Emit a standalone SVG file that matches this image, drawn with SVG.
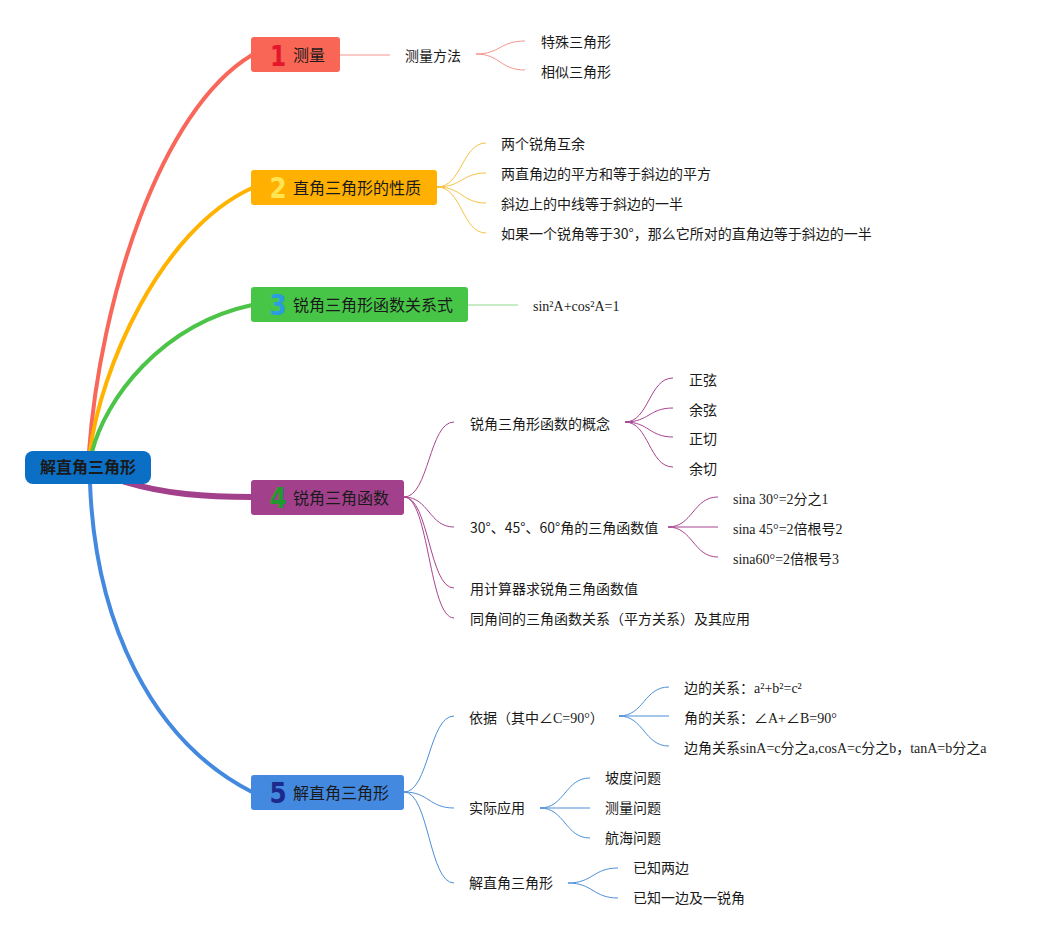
<svg xmlns="http://www.w3.org/2000/svg" width="1047" height="938" viewBox="0 0 1047 938">
<style>
.t{font-family:"Noto Sans CJK SC","Liberation Sans",sans-serif;font-size:14px;fill:#1a1a1a}
.s{font-family:"Liberation Serif","Noto Sans CJK SC",serif;font-size:14px;fill:#1a1a1a}
.b{font-family:"Noto Sans CJK SC","Liberation Sans",sans-serif;font-size:16px;fill:#1a1a1a}
.num{font-family:"DejaVu Sans",sans-serif;font-weight:bold;font-size:29px;text-anchor:middle}
.main{fill:none;stroke-width:4;stroke-linecap:round}
.sub{fill:none;stroke-width:1}
.r{stroke:#F4958C}.y{stroke:#F6C342}.g{stroke:#8ED98A}.p{stroke:#A8448F}.bl{stroke:#4D8FD8}
</style>
<rect width="1047" height="938" fill="#ffffff"/>
<g id="connectors">
<path class="main" stroke="#F8675A" d="M89,452 C100,300 160,110 252,55"/>
<path class="main" stroke="#FFB300" d="M90,452 C100,370 160,230 252,188"/>
<path class="main" stroke="#4CC447" d="M92,452 C105,400 160,325 252,305"/>
<path class="main" stroke="#4389E0" d="M90,483 C95,620 150,740 252,792"/>
<path fill="none" stroke="#A2408C" stroke-width="6" stroke-linecap="round" d="M125,482 C165,494 205,497 252,497"/>
<path class="sub r" d="M340,55 L390,55"/>
<path class="sub r" d="M476,54 C500,54 500,41 525,41"/>
<path class="sub r" d="M476,54 C500,54 500,70 525,70"/>
<path class="sub y" d="M437,187 C462,187 462,143 486,143"/>
<path class="sub y" d="M437,187 C462,187 462,173 486,173"/>
<path class="sub y" d="M437,187 C462,187 462,203 486,203"/>
<path class="sub y" d="M437,187 C462,187 462,233 486,233"/>
<path class="sub g" d="M468,305 L518,305"/>
<path class="sub p" d="M404,497 C429,497 429,422 454,422"/>
<path class="sub p" d="M404,497 C429,497 429,527 454,527"/>
<path class="sub p" d="M404,497 C429,497 429,588 454,588"/>
<path class="sub p" d="M404,497 C429,497 429,618 454,618"/>
<path class="sub p" d="M625,422 C649,422 649,378 673,378"/>
<path class="sub p" d="M625,422 C649,422 649,408 673,408"/>
<path class="sub p" d="M625,422 C649,422 649,437 673,437"/>
<path class="sub p" d="M625,422 C649,422 649,467 673,467"/>
<path class="sub p" d="M668,527 C693,527 693,497 718,497"/>
<path class="sub p" d="M668,527 L718,527"/>
<path class="sub p" d="M668,527 C693,527 693,557 718,557"/>
<path class="sub bl" d="M404,792 C429,792 429,716 454,716"/>
<path class="sub bl" d="M404,792 C429,792 429,808 454,808"/>
<path class="sub bl" d="M404,792 C429,792 429,883 454,883"/>
<path class="sub bl" d="M619,716 C644,716 644,687 669,687"/>
<path class="sub bl" d="M619,716 L669,716"/>
<path class="sub bl" d="M619,716 C644,716 644,746 669,746"/>
<path class="sub bl" d="M540,808 C565,808 565,778 590,778"/>
<path class="sub bl" d="M540,808 L590,808"/>
<path class="sub bl" d="M540,808 C565,808 565,838 590,838"/>
<path class="sub bl" d="M568,883 C593,883 593,868 618,868"/>
<path class="sub bl" d="M568,883 C593,883 593,898 618,898"/>
</g>
<g id="root">
<rect x="25" y="451" width="126" height="33" rx="8" fill="#0B6FC6"/>
<text x="88" y="473" class="b" font-weight="bold" text-anchor="middle">解直角三角形</text>
</g>
<g id="b1">
<rect x="251" y="37" width="89" height="35" rx="3" fill="#FA6656"/>
<text class="num" fill="#E3162E" transform="translate(278,65.5) scale(0.8,1)">1</text>
<text x="293" y="61" class="b">测量</text>
</g>
<g id="b1c"><text x="405" y="61" class="t">测量方法</text></g>
<g id="b1c1"><text x="541" y="47" class="t">特殊三角形</text></g>
<g id="b1c2"><text x="541" y="77" class="t">相似三角形</text></g>
<g id="b2">
<rect x="251" y="170" width="186" height="35" rx="3" fill="#FFB000"/>
<text class="num" fill="#FFE454" transform="translate(278,198) scale(0.85,1)">2</text>
<text x="293" y="193.5" class="b">直角三角形的性质</text>
</g>
<g id="b2c1"><text x="501" y="149" class="t">两个锐角互余</text></g>
<g id="b2c2"><text x="501" y="179" class="t">两直角边的平方和等于斜边的平方</text></g>
<g id="b2c3"><text x="501" y="209" class="t">斜边上的中线等于斜边的一半</text></g>
<g id="b2c4"><text x="501" y="239" class="t">如果一个锐角等于30°，那么它所对的直角边等于斜边的一半</text></g>
<g id="b3">
<rect x="251" y="287" width="217" height="35" rx="3" fill="#47C547"/>
<text class="num" fill="#2A9CE0" transform="translate(278,315) scale(0.85,1)">3</text>
<text x="293" y="310.5" class="b">锐角三角形函数关系式</text>
</g>
<g id="b3c1"><text x="533" y="311" class="s">sin²A+cos²A=1</text></g>
<g id="b4">
<rect x="251" y="480" width="153" height="35" rx="3" fill="#A2408C"/>
<text class="num" fill="#1F9B2E" transform="translate(278,508) scale(0.85,1)">4</text>
<text x="293" y="503.5" class="b">锐角三角函数</text>
</g>
<g id="b4c1"><text x="470" y="429" class="t">锐角三角形函数的概念</text></g>
<g id="b4c1a"><text x="689" y="385" class="t">正弦</text></g>
<g id="b4c1b"><text x="689" y="415" class="t">余弦</text></g>
<g id="b4c1c"><text x="689" y="444" class="t">正切</text></g>
<g id="b4c1d"><text x="689" y="474" class="t">余切</text></g>
<g id="b4c2"><text x="470" y="533" class="t">30°、45°、60°角的三角函数值</text></g>
<g id="b4c2a"><text x="733" y="504" class="s">sina 30°=2分之1</text></g>
<g id="b4c2b"><text x="733" y="534" class="s">sina 45°=2倍根号2</text></g>
<g id="b4c2c"><text x="733" y="564" class="s">sina60°=2倍根号3</text></g>
<g id="b4c3"><text x="470" y="594" class="t">用计算器求锐角三角函数值</text></g>
<g id="b4c4"><text x="470" y="624" class="t">同角间的三角函数关系（平方关系）及其应用</text></g>
<g id="b5">
<rect x="251" y="775" width="153" height="35" rx="3" fill="#4389E0"/>
<text class="num" fill="#1B2A8C" transform="translate(278,803) scale(0.85,1)">5</text>
<text x="293" y="798.5" class="b">解直角三角形</text>
</g>
<g id="b5c1"><text x="469" y="723" class="s">依据（其中∠C=90°）</text></g>
<g id="b5c1a"><text x="684" y="693" class="s">边的关系：a²+b²=c²</text></g>
<g id="b5c1b"><text x="684" y="723" class="s">角的关系：∠A+∠B=90°</text></g>
<g id="b5c1c"><text x="684" y="753" class="s">边角关系sinA=c分之a,cosA=c分之b，tanA=b分之a</text></g>
<g id="b5c2"><text x="469" y="813" class="t">实际应用</text></g>
<g id="b5c2a"><text x="605" y="783" class="t">坡度问题</text></g>
<g id="b5c2b"><text x="605" y="813" class="t">测量问题</text></g>
<g id="b5c2c"><text x="605" y="843" class="t">航海问题</text></g>
<g id="b5c3"><text x="469" y="888" class="t">解直角三角形</text></g>
<g id="b5c3a"><text x="633" y="873" class="t">已知两边</text></g>
<g id="b5c3b"><text x="633" y="903" class="t">已知一边及一锐角</text></g>
</svg>
